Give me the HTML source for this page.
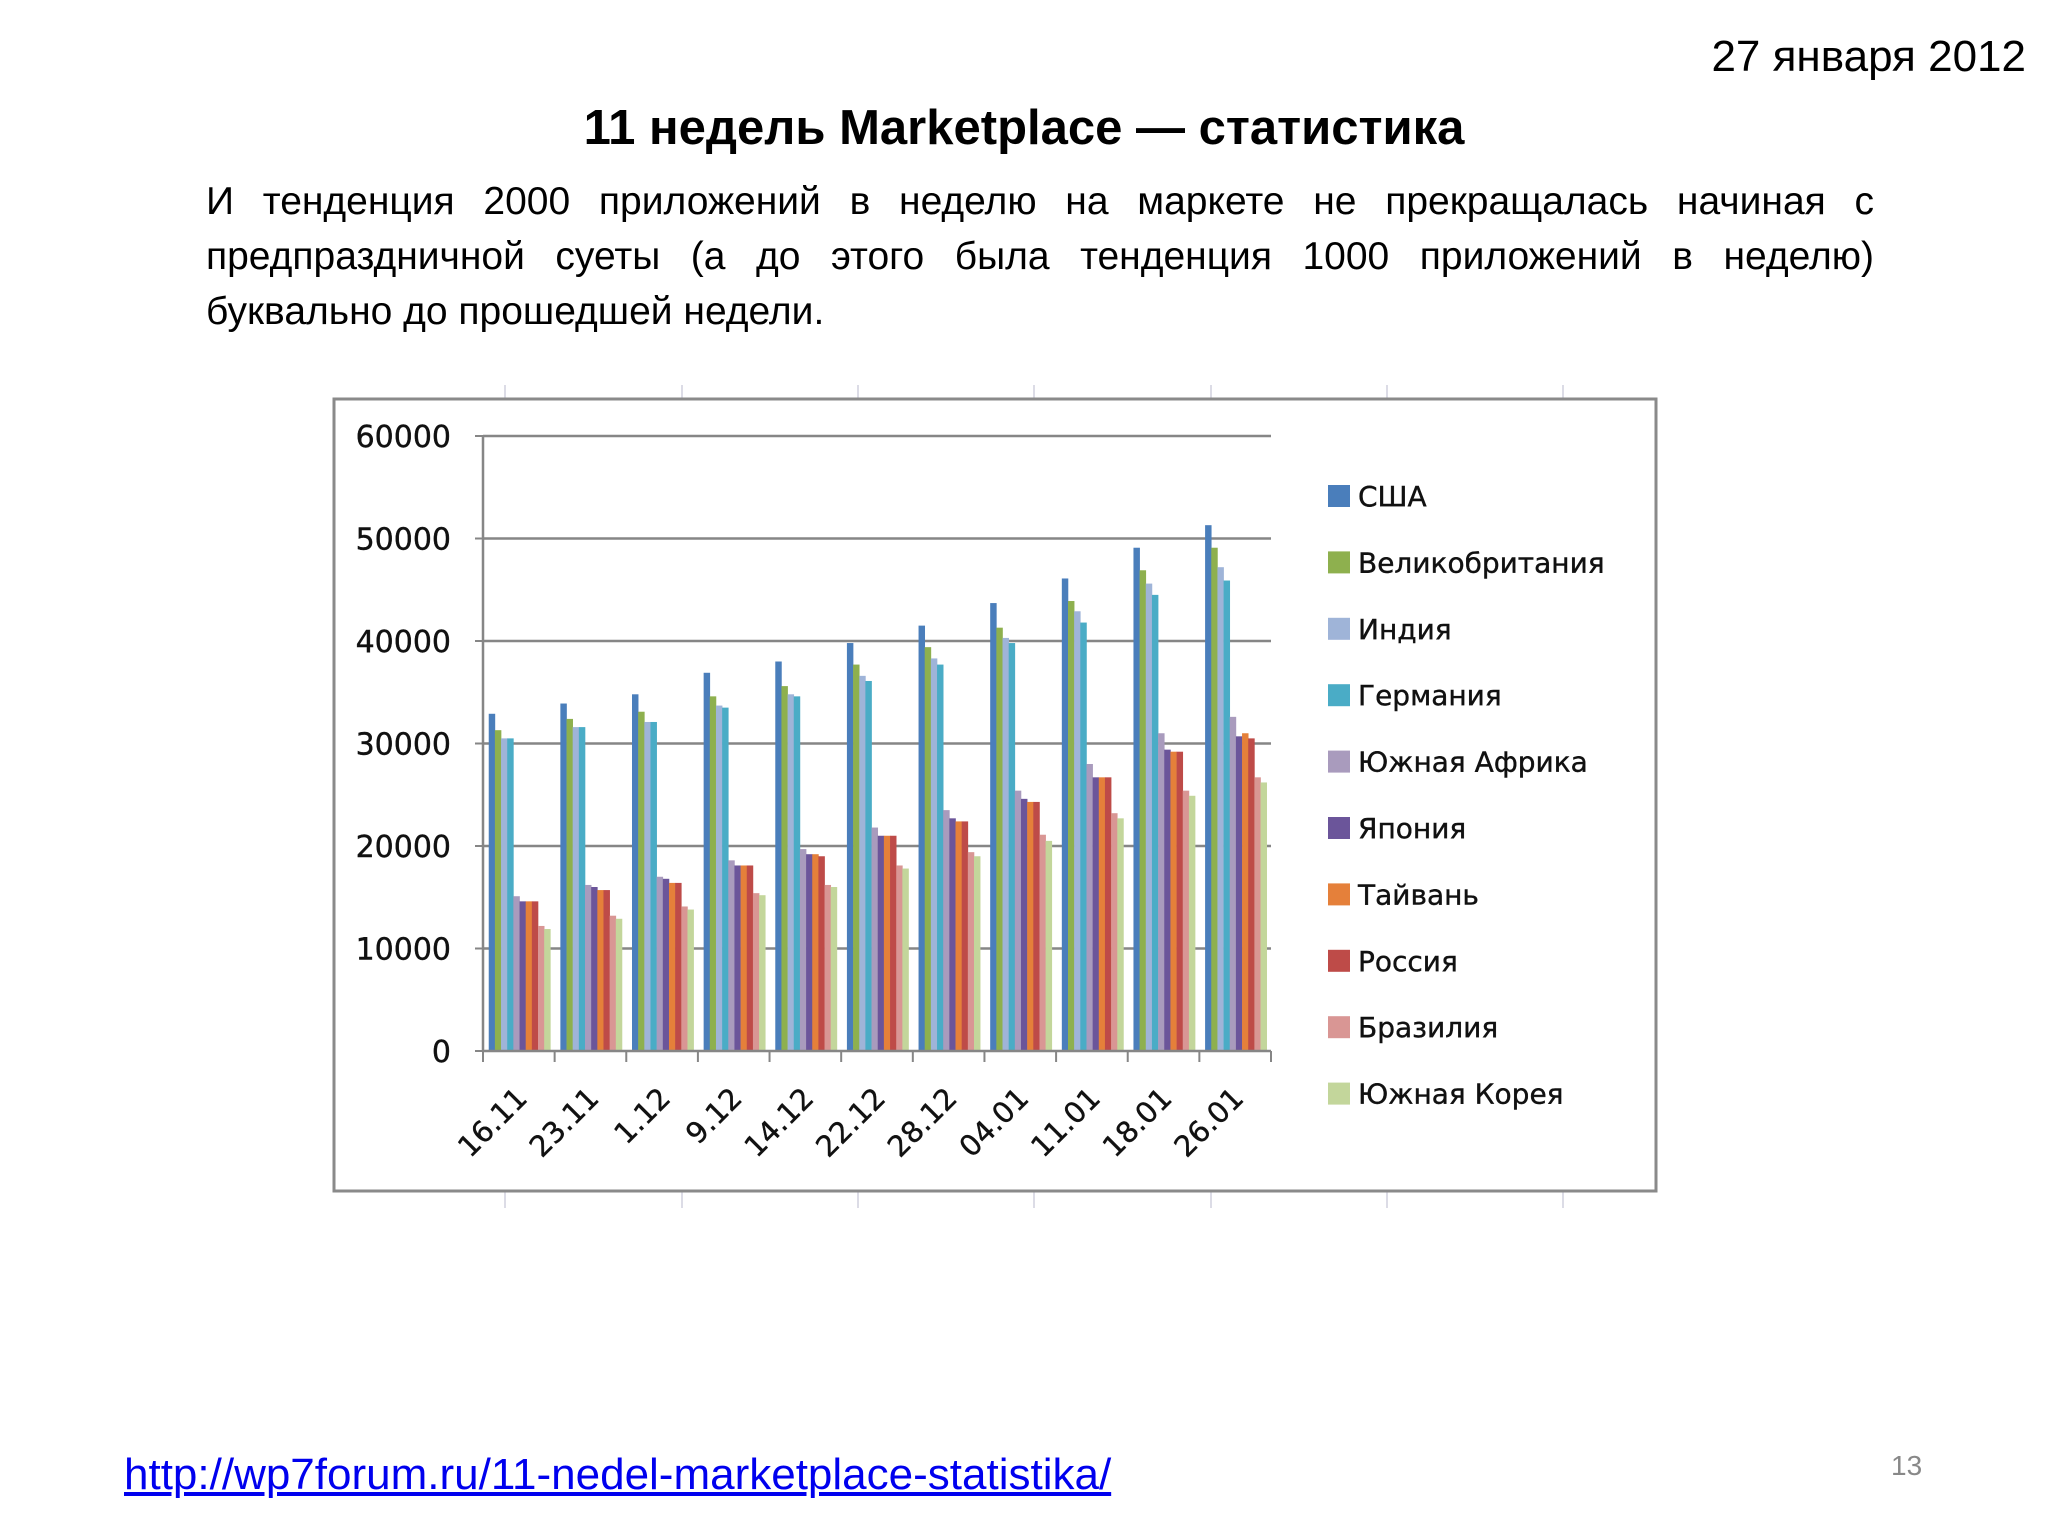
<!DOCTYPE html>
<html><head><meta charset="utf-8"><style>
body{margin:0;background:#fff;}
#page{position:relative;width:2048px;height:1536px;overflow:hidden;background:#fff;font-family:"Liberation Sans","Noto Sans CJK SC",sans-serif;}
.date{position:absolute;right:22px;top:32px;font-size:44px;color:#000;}
.title{position:absolute;left:0;width:2048px;top:100px;text-align:center;font-size:49px;font-weight:bold;}
.para{position:absolute;left:206px;width:1668px;top:174px;font-size:39px;line-height:55px;}
.para div{text-align:justify;text-align-last:justify;}
.para div.last{text-align-last:left;}
.link{position:absolute;left:124px;top:1450px;font-size:44px;color:#0000ee;text-decoration:underline;}
.pnum{position:absolute;left:1891px;top:1450px;font-size:28px;color:#888;}
svg{position:absolute;left:0;top:0;}
</style></head><body>
<div id="page">
<div class="date">27 января 2012</div>
<div class="title">11 недель Marketplace — статистика</div>
<div class="para">
<div>И тенденция 2000 приложений в неделю на маркете не прекращалась начиная с</div>
<div>предпраздничной суеты (а до этого была тенденция 1000 приложений в неделю)</div>
<div class="last">буквально до прошедшей недели.</div>
</div>
<svg id="chart" width="2048" height="1536"></svg>
<a class="link" href="#">http://wp7forum.ru/11-nedel-marketplace-statistika/</a>
<div class="pnum">13</div>
</div>
<script>
const categories = ["16.11","23.11","1.12","9.12","14.12","22.12","28.12","04.01","11.01","18.01","26.01"];
const seriesNames = ["США","Великобритания","Индия","Германия","Южная Африка","Япония","Тайвань","Россия","Бразилия","Южная Корея"];
const usa = [32900,33900,34800,36900,38000,39800,41500,43700,46100,49100,51300];
const uk = [31300,32400,33100,34600,35600,37700,39400,41300,43900,46900,49100];
const india = [30500,31600,32100,33700,34800,36600,38300,40300,42900,45600,47200];
const germany = [30500,31600,32100,33500,34600,36100,37700,39800,41800,44500,45900];
const southAfrica = [15100,16200,17000,18600,19700,21800,23500,25400,28000,31000,32600];
const japan = [14600,16000,16800,18100,19200,21000,22700,24600,26700,29400,30700];
const taiwan = [14600,15700,16400,18100,19200,21000,22400,24300,26700,29200,31000];
const russia = [14600,15700,16400,18100,19000,21000,22400,24300,26700,29200,30500];
const brazil = [12200,13200,14100,15400,16200,18100,19400,21100,23200,25400,26700];
const korea = [11900,12900,13800,15200,16000,17800,19000,20500,22700,24900,26200];
const yTicks = [0,10000,20000,30000,40000,50000,60000];
const allSeries = [usa,uk,india,germany,southAfrica,japan,taiwan,russia,brazil,korea];
const colors = ["#4A7EBB","#8EB04E","#9FB4D8","#4AACC6","#A99BBD","#6B559A","#E5803A","#BE4B48","#D99694","#C3D69B"];
const NS="http://www.w3.org/2000/svg";
const svg=document.getElementById('chart');
function mk(t,a,p){const e=document.createElementNS(NS,t);for(const k in a)e.setAttribute(k,a[k]);(p||svg).appendChild(e);return e;}
const X0=483,X1=1271,Y0=1051,YT=436,YMAX=60000;
const cw=(X1-X0)/categories.length;
function y(v){return Y0-(v/YMAX)*(Y0-YT);}
function xc(i){return X0+i*cw;}
[505,682,858,1034,1211,1387,1563].forEach(gx=>{const l=mk('line',{x1:gx,x2:gx,y1:385,y2:1208,stroke:'#dcdce6','stroke-width':2});

});
const fr=mk('rect',{x:334,y:399,width:1322,height:792,fill:'#fff',stroke:'#8a8a8a','stroke-width':3});


yTicks.forEach(v=>{
 if(v>0){const g=mk('line',{x1:X0,x2:X1,y1:y(v),y2:y(v),stroke:'#868686','stroke-width':2.5});
 
 }
 const tk=mk('line',{x1:X0-8,x2:X0,y1:y(v),y2:y(v),stroke:'#868686','stroke-width':2});
 
 
 const t=mk('text',{x:451,y:y(v)+11,'text-anchor':'end','font-family':'"DejaVu Sans",sans-serif','font-size':30,fill:'#111','stroke':'#111','stroke-width':0.4});
 t.textContent=v;
 
 
});
allSeries.forEach((s,si)=>{
 s.forEach((v,i)=>{
  const bw=cw*0.86/allSeries.length;
  const bx=xc(i)+cw*0.08+si*bw;
  const r=mk('rect',{x:bx,y:y(v),width:bw+0.3,height:Y0-y(v),fill:colors[si]});
  
  
 });
});
const ya=mk('line',{x1:X0,x2:X0,y1:YT,y2:Y0,stroke:'#868686','stroke-width':2.5});


const xa=mk('line',{x1:X0,x2:X1,y1:Y0,y2:Y0,stroke:'#868686','stroke-width':2.5});


for(let i=0;i<=categories.length;i++){const t=mk('line',{x1:xc(i),x2:xc(i),y1:Y0,y2:Y0+11,stroke:'#868686','stroke-width':2});

}
categories.forEach((c,i)=>{
 const cx=xc(i)+cw/2+10, cy=1100;
 const t=mk('text',{x:cx,y:cy,'text-anchor':'end','font-family':'"DejaVu Sans",sans-serif','font-size':29,fill:'#111','stroke':'#111','stroke-width':0.4,transform:`rotate(-45 ${cx} ${cy})`});
 t.textContent=c;
 
 
});
seriesNames.forEach((n,i)=>{
 const ly=496+i*66.4;
 const r=mk('rect',{x:1328,y:ly-11,width:22,height:22,fill:colors[i]});
 
 
 const t=mk('text',{x:1358,y:ly+10,'font-family':'"DejaVu Sans",sans-serif','font-size':28,fill:'#111','stroke':'#111','stroke-width':0.4});
 t.textContent=n;
 
 
});
</script>
</body></html>
